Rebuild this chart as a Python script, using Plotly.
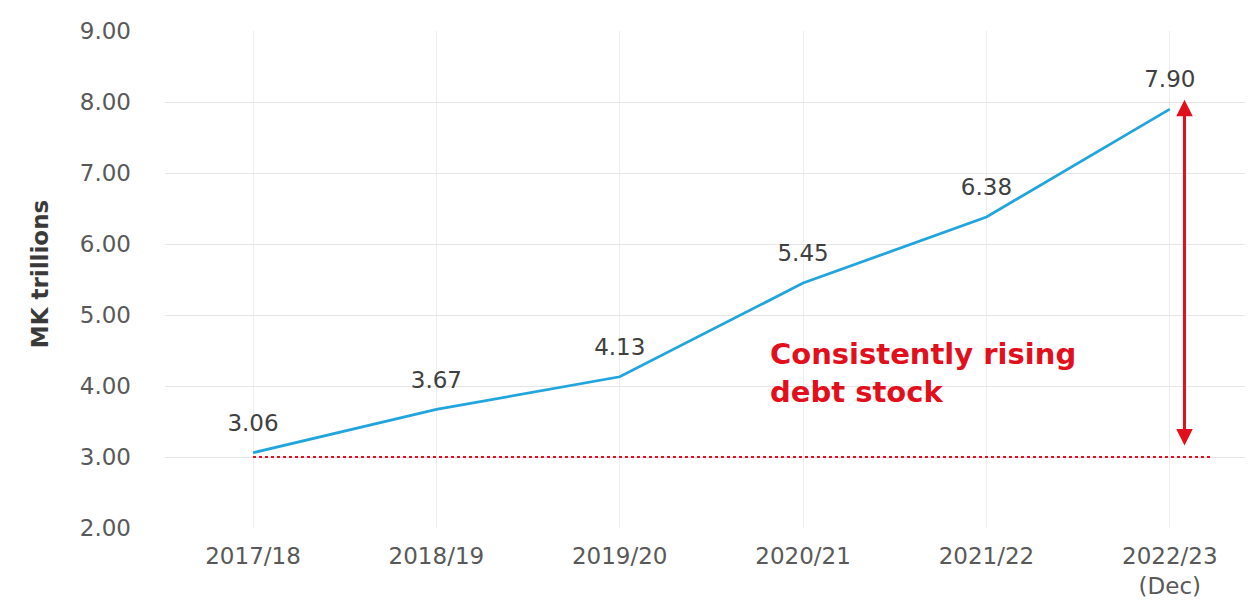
import plotly.graph_objects as go

# Public debt stock by fiscal year (MK trillions)
years = ["2017/18", "2018/19", "2019/20", "2020/21", "2021/22", "2022/23<br>(Dec)"]
debt_stock = [3.06, 3.67, 4.13, 5.45, 6.38, 7.90]
baseline = 3.00
y_ticks = [2, 3, 4, 5, 6, 7, 8, 9]

FONT = "DejaVu Sans"
RED = "#e2101c"

fig = go.Figure()

# Invisible markers push the value labels a little above the line
fig.add_trace(go.Scatter(
    x=list(range(len(years))),
    y=debt_stock,
    mode="lines+markers+text",
    text=[f"{v:.2f}" for v in debt_stock],
    textposition="top center",
    textfont=dict(family=FONT, size=23, color="#404040"),
    line=dict(color="#22a5dc", width=2.8),
    marker=dict(size=24, color="rgba(0,0,0,0)"),
    cliponaxis=False,
    hoverinfo="skip",
    showlegend=False,
))

# Starting level as a dotted reference line
fig.add_shape(
    type="line", xref="x", yref="y",
    x0=0, x1=5.23, y0=baseline, y1=baseline,
    line=dict(color=RED, width=2, dash="dot"),
)

# Double-headed arrow spanning the rise
fig.add_annotation(
    x=5.08, y=8.03, ax=5.08, ay=3.14,
    xref="x", yref="y", axref="x", ayref="y",
    text="", showarrow=True,
    arrowhead=2, startarrowhead=2, arrowside="end+start",
    arrowsize=1.1, startarrowsize=1.1,
    arrowwidth=3, arrowcolor=RED,
)

fig.add_annotation(
    x=2.81, y=4.18, xref="x", yref="y",
    text="<b>Consistently rising<br>debt stock</b>",
    showarrow=False, xanchor="left", yanchor="middle", align="left",
    font=dict(family=FONT, size=29, color=RED),
)

# Y axis title
fig.add_annotation(
    x=-0.116, y=0.51, xref="paper", yref="paper",
    text="<b>MK trillions</b>", textangle=-90,
    showarrow=False, xanchor="center", yanchor="middle",
    font=dict(family=FONT, size=23, color="#3a3a3a"),
)

fig.update_xaxes(
    tickmode="array",
    tickvals=list(range(len(years))),
    ticktext=years,
    range=[-0.48, 5.41],
    showgrid=True, gridcolor="#ededed", gridwidth=1,
    zeroline=False, showline=False, ticks="",
    tickfont=dict(family=FONT, size=23, color="#595959"),
    ticklabelstandoff=12,
    automargin=False,
)

fig.update_yaxes(
    range=[2, 9],
    tickvals=y_ticks,
    ticktext=[f"{v:.2f}" for v in y_ticks],
    showgrid=True, gridcolor="#e6e6e6", gridwidth=1,
    zeroline=False, showline=False, ticks="",
    tickfont=dict(family=FONT, size=23, color="#595959"),
    ticklabelstandoff=33,
    automargin=False,
)

fig.update_layout(
    width=1253, height=606,
    margin=dict(l=165, r=8, t=31, b=78),
    plot_bgcolor="white", paper_bgcolor="white",
    font=dict(family=FONT),
)

fig.write_html("out.html")
